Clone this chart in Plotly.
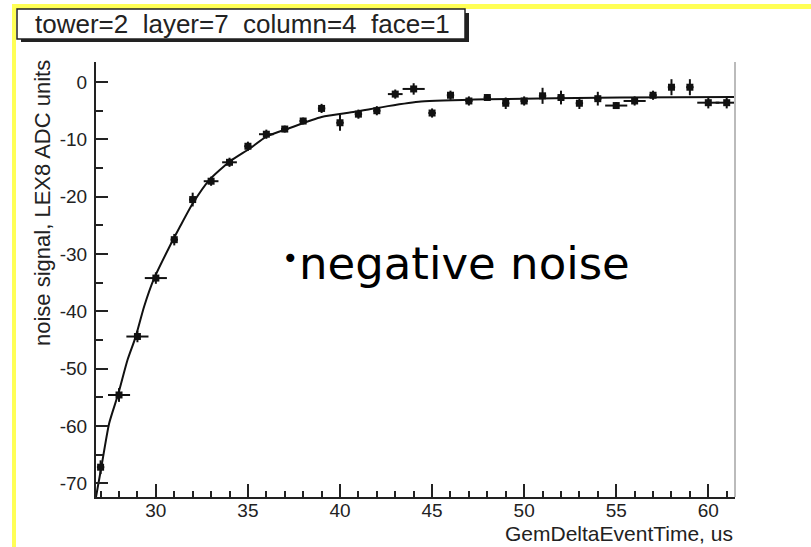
import plotly.graph_objects as go

# ---- data ----
time_us = [27, 28, 29, 30, 31, 32, 33, 34, 35, 36, 37, 38, 39, 40, 41, 42, 43, 44,
           45, 46, 47, 48, 49, 50, 51, 52, 53, 54, 55, 56, 57, 58, 59, 60, 61]
noise = [-67.2, -54.6, -44.4, -34.2, -27.5, -20.5, -17.3, -14.0, -11.2, -9.1, -8.2,
         -6.8, -4.6, -7.1, -5.6, -5.0, -2.1, -1.2, -5.4, -2.3, -3.3, -2.7, -3.7, -3.3,
         -2.4, -2.7, -3.7, -2.9, -4.1, -3.3, -2.3, -0.9, -0.9, -3.6, -3.6]
noise_err = [1.2, 1.2, 1.0, 1.0, 1.0, 1.2, 0.8, 0.8, 0.8, 0.8, 0.6, 0.6, 0.8, 1.4,
             0.8, 0.8, 0.8, 1.0, 0.8, 0.8, 0.8, 0.6, 1.0, 0.8, 1.4, 1.2, 1.0, 1.2,
             0.6, 0.8, 0.8, 1.4, 1.4, 1.0, 1.0]
time_err = [0.2, 0.6, 0.6, 0.6, 0.2, 0.2, 0.4, 0.4, 0.2, 0.4, 0.2, 0.2, 0.2, 0.2,
            0.2, 0.2, 0.4, 0.6, 0.2, 0.2, 0.2, 0.2, 0.2, 0.2, 0.2, 0.2, 0.2, 0.2,
            0.6, 0.6, 0.2, 0.2, 0.2, 0.6, 0.6]

fit_x = [26.75, 27.04, 27.46, 27.96, 28.46, 28.9, 29.36, 29.9, 30.7, 31.3, 32.0,
         32.9, 34.0, 35.1, 36.0, 37.2, 39.0, 40.8, 42.6, 44.4, 48.0, 55.2, 61.45]
fit_y = [-72.4, -67.2, -59.6, -54.4, -48.5, -44.5, -39.2, -34.3, -29.0, -25.3, -21.2,
         -17.1, -13.9, -11.6, -9.5, -8.1, -6.1, -5.2, -4.2, -3.4, -3.0, -2.7, -2.6]

x_range = [26.75, 61.45]
y_range = [-72.4, 3.5]
y_tickvals = [0, -10, -20, -30, -40, -50, -60, -70]
y_ticktext = ["0", "-10", "-20", "-30", "-40", "-50", "-60", "-70"]
x_tickvals = [30, 35, 40, 45, 50, 55, 60]
x_ticktext = ["30", "35", "40", "45", "50", "55", "60"]

title_text = "tower=2\u00a0\u00a0layer=7\u00a0\u00a0column=4\u00a0\u00a0face=1"
x_title = "GemDeltaEventTime, us"
y_title = "noise signal, LEX8 ADC units"
note_bullet = "\u2022"
note_text = "negative noise"

# ---- layout geometry ----
W, H = 811, 547
L, R, T, B = 96, 735, 62, 497


def px(x):
    return (x - L) / (R - L)


def py(y):
    return (B - y) / (B - T)


ROOT_FONT = "Liberation Sans, Arial, sans-serif"

fig = go.Figure()
fig.add_trace(go.Scatter(
    x=fit_x, y=fit_y, mode="lines",
    line=dict(color="#111111", width=2, shape="spline", smoothing=0.6),
    hoverinfo="skip", showlegend=False))
fig.add_trace(go.Scatter(
    x=time_us, y=noise, mode="markers",
    marker=dict(symbol="square", size=7, color="#111111"),
    error_y=dict(type="data", array=noise_err, color="#111111", thickness=2, width=0),
    error_x=dict(type="data", array=time_err, color="#111111", thickness=2, width=0),
    showlegend=False))

fig.update_layout(
    width=W, height=H,
    margin=dict(l=L, r=W - R, t=T, b=H - B),
    paper_bgcolor="white", plot_bgcolor="white",
    xaxis=dict(range=x_range, showgrid=False, zeroline=False,
               showline=True, linecolor="#222222", linewidth=2,
               ticks="inside", ticklen=13, tickwidth=1.5, tickcolor="#222222",
               tickmode="array", tickvals=x_tickvals, ticktext=x_ticktext,
               ticklabelstandoff=-5,
               minor=dict(dtick=1, tick0=0, ticks="inside", ticklen=6,
                          tickwidth=1.5, tickcolor="#222222", showgrid=False),
               tickfont=dict(family=ROOT_FONT, size=19, color="#222222")),
    yaxis=dict(range=y_range, showgrid=False, zeroline=False,
               showline=True, linecolor="#222222", linewidth=2,
               ticks="inside", ticklen=12, tickwidth=1.5, tickcolor="#222222",
               tickmode="array", tickvals=y_tickvals, ticktext=y_ticktext,
               ticklabelstandoff=3,
               minor=dict(dtick=5, tick0=0, ticks="inside", ticklen=7,
                          tickwidth=1.5, tickcolor="#222222", showgrid=False),
               tickfont=dict(family=ROOT_FONT, size=19, color="#222222")),
    shapes=[
        # yellow slide border
        dict(type="rect", xref="paper", yref="paper",
             x0=px(12), x1=px(W + 2), y0=py(9), y1=py(4),
             fillcolor="#ffff55", line=dict(width=0), layer="above"),
        dict(type="rect", xref="paper", yref="paper",
             x0=px(12), x1=px(16), y0=py(H + 2), y1=py(4),
             fillcolor="#ffff55", line=dict(width=0), layer="above"),
        # right frame line
        dict(type="line", xref="paper", yref="paper", x0=1, x1=1, y0=0, y1=1,
             line=dict(color="#bbbbbb", width=2)),
        # title box shadow + box
        dict(type="rect", xref="paper", yref="paper",
             x0=px(21), x1=px(469), y0=py(42), y1=py(13),
             fillcolor="#222222", line=dict(width=0), layer="above"),
        dict(type="rect", xref="paper", yref="paper",
             x0=px(17), x1=px(465), y0=py(39), y1=py(9),
             fillcolor="white", line=dict(color="#222222", width=1.5), layer="above"),
    ],
    annotations=[
        dict(text=title_text, xref="paper", yref="paper",
             x=px(242), y=py(24), xanchor="center", yanchor="middle",
             showarrow=False, font=dict(family=ROOT_FONT, size=26, color="#222222")),
        dict(text=x_title, xref="paper", yref="paper",
             x=1, y=py(533), xanchor="right", yanchor="middle",
             showarrow=False, font=dict(family=ROOT_FONT, size=21, color="#222222")),
        dict(text=y_title, xref="paper", yref="paper", textangle=-90,
             x=px(42), y=py(203), xanchor="center", yanchor="middle",
             showarrow=False, font=dict(family=ROOT_FONT, size=22, color="#222222")),
        dict(text=note_bullet, xref="paper", yref="paper",
             x=px(280), y=py(258), xanchor="left", yanchor="middle",
             showarrow=False, font=dict(family="DejaVu Sans, sans-serif", size=28,
                                        color="black")),
        dict(text=note_text, xref="paper", yref="paper",
             x=px(297), y=py(263), xanchor="left", yanchor="middle",
             showarrow=False, font=dict(family="DejaVu Sans, sans-serif", size=45,
                                        color="black")),
    ],
)

fig.write_html("out.html")
